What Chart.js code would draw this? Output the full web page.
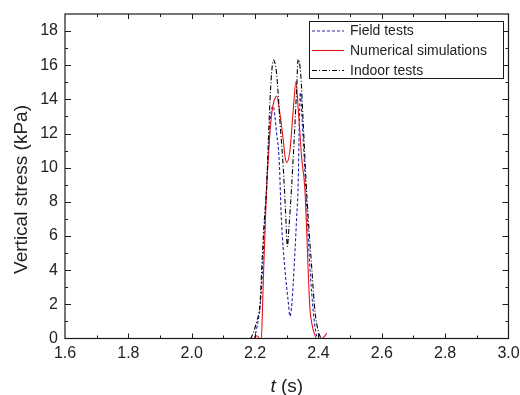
<!DOCTYPE html>
<html><head><meta charset="utf-8">
<script src="https://cdn.jsdelivr.net/npm/chart.js@4/dist/chart.umd.min.js"></script>
<style>html,body{margin:0;padding:0;background:#fff}#c{display:block}</style>
</head><body>
<canvas id="c" width="520" height="395"></canvas>
<script>
const xTicks = [1.6, 1.8, 2.0, 2.2, 2.4, 2.6, 2.8, 3.0];
const yTicks = [0, 2, 4, 6, 8, 10, 12, 14, 16, 18];
const seriesLabels = ['Field tests', 'Numerical simulations', 'Indoor tests'];

const tField = [2.198, 2.205, 2.216, 2.222, 2.231, 2.242, 2.249, 2.257, 2.268, 2.276, 2.283, 2.294, 2.305, 2.310, 2.315, 2.320, 2.326, 2.331, 2.336, 2.339, 2.343, 2.349, 2.358, 2.365, 2.372, 2.379, 2.387, 2.395, 2.399];
const vField = [0, 0.6, 1.9, 3.5, 7.0, 11.0, 13.0, 13.6, 12.0, 10.5, 7.0, 4.1, 2.1, 1.3, 1.8, 3.1, 5.1, 7.0, 9.0, 12.0, 14.4, 12.6, 9.5, 7.0, 4.5, 2.6, 1.0, 0.1, 0];

const tNum = [2.198, 2.203, 2.208, 2.213, 2.220, 2.223, 2.227, 2.231, 2.236, 2.242, 2.248, 2.256, 2.264, 2.268, 2.279, 2.289, 2.295, 2.300, 2.310, 2.321, 2.329, 2.336, 2.347, 2.357, 2.363, 2.368, 2.373, 2.380, 2.387, 2.394, 2.410, 2.418, 2.426];
const vNum = [0, 0.15, 0.15, 0, 0, 1.5, 4.0, 6.0, 8.6, 10.6, 12.3, 13.6, 14.1, 14.2, 13.1, 11.6, 10.6, 10.3, 11.0, 13.5, 15.05, 13.5, 10.6, 8.8, 6.3, 3.8, 1.8, 0.8, 0.3, 0, 0, 0.1, 0.3];

const tIndoor = [2.185, 2.189, 2.205, 2.216, 2.221, 2.228, 2.237, 2.242, 2.247, 2.252, 2.258, 2.268, 2.279, 2.289, 2.296, 2.302, 2.307, 2.316, 2.326, 2.331, 2.336, 2.344, 2.352, 2.361, 2.368, 2.379, 2.389, 2.400, 2.408];
const vIndoor = [0, 0.1, 1.0, 2.1, 4.1, 6.6, 9.0, 11.6, 13.9, 15.5, 16.3, 15.5, 12.6, 10.0, 7.5, 5.4, 6.5, 9.1, 12.6, 14.5, 16.35, 15.5, 12.6, 9.2, 7.0, 4.1, 1.6, 0.4, 0];

const FONT = '"Liberation Sans", Arial, sans-serif';
const colors = ['#2424a8', '#e8141c', '#000000'];
const dashes = [[3, 2], [], [5, 2, 1, 2]];

function pts(t, v) { return t.map((x, i) => ({ x: x, y: v[i] })); }

const framePlugin = {
  id: 'frame',
  afterDraw(chart) {
    const ctx = chart.ctx, a = chart.chartArea;
    const xs = chart.scales.x, ys = chart.scales.y;
    ctx.save();
    ctx.strokeStyle = '#1a1a1a';
    ctx.lineWidth = 1.2;
    ctx.strokeRect(a.left, a.top, a.right - a.left, a.bottom - a.top);
    ctx.lineWidth = 1;
    ctx.beginPath();
    for (let k = 0; k <= 14; k++) {
      const v = 1.6 + k * 0.1;
      const px = Math.round(xs.getPixelForValue(v)) + 0.5;
      const len = (k % 2 === 0) ? 5 : 3;
      if (k === 0 || k === 14) continue;
      ctx.moveTo(px, a.bottom); ctx.lineTo(px, a.bottom - len);
      ctx.moveTo(px, a.top); ctx.lineTo(px, a.top + len);
    }
    for (let v = 1; v < 19; v++) {
      const py = Math.round(ys.getPixelForValue(v)) + 0.5;
      const len = (v % 2 === 0) ? 6 : 3;
      ctx.moveTo(a.left, py); ctx.lineTo(a.left + len, py);
      ctx.moveTo(a.right, py); ctx.lineTo(a.right - len, py);
    }
    ctx.stroke();

    // legend
    const lx = 309.5, ly = 21.5, lw = 194, lh = 57;
    ctx.fillStyle = '#fff';
    ctx.fillRect(lx, ly, lw, lh);
    ctx.strokeStyle = '#1a1a1a';
    ctx.lineWidth = 1;
    ctx.strokeRect(lx, ly, lw, lh);
    const rows = [31, 50.5, 70.5];
    chart.data.datasets.forEach((ds, i) => {
      const y = rows[i];
      ctx.beginPath();
      ctx.setLineDash(ds.borderDash || []);
      ctx.strokeStyle = ds.borderColor;
      ctx.lineWidth = ds.borderWidth;
      ctx.moveTo(312, y); ctx.lineTo(344, y);
      ctx.stroke();
      ctx.setLineDash([]);
      ctx.fillStyle = '#222';
      ctx.font = '14px ' + FONT;
      ctx.textBaseline = 'middle';
      ctx.textAlign = 'left';
      ctx.fillText(ds.label, 350, y + 0.5);
    });

    // x axis title with italic t
    ctx.font = 'italic 19px ' + FONT;
    const w1 = ctx.measureText('t').width;
    ctx.font = '19px ' + FONT;
    const w2 = ctx.measureText(' (s)').width;
    const cx = (a.left + a.right) / 2;
    const x0 = cx - (w1 + w2) / 2;
    ctx.textBaseline = 'alphabetic';
    ctx.textAlign = 'left';
    ctx.fillStyle = '#222';
    ctx.font = 'italic 19px ' + FONT;
    ctx.fillText('t', x0, 392);
    ctx.font = '19px ' + FONT;
    ctx.fillText(' (s)', x0 + w1, 392);
    ctx.restore();
  }
};

const datasets = [
  { label: seriesLabels[0], data: pts(tField, vField), borderColor: colors[0], borderDash: dashes[0], order: 2 },
  { label: seriesLabels[1], data: pts(tNum, vNum), borderColor: colors[1], borderDash: dashes[1], order: 1 },
  { label: seriesLabels[2], data: pts(tIndoor, vIndoor), borderColor: colors[2], borderDash: dashes[2], order: 0 }
].map(d => Object.assign(d, { borderWidth: 1.1, pointRadius: 0, fill: false, cubicInterpolationMode: 'monotone' }));

new Chart(document.getElementById('c'), {
  type: 'line',
  data: { datasets: datasets },
  options: {
    responsive: false,
    animation: false,
    layout: { padding: { left: 0, right: 11.5, top: 14, bottom: 0 } },
    plugins: { legend: { display: false }, tooltip: { enabled: false } },
    scales: {
      x: {
        type: 'linear', min: 1.6, max: 3.0,
        afterBuildTicks: s => { s.ticks = xTicks.map(v => ({ value: v })); },
        afterFit: s => { s.height = 56.5; s.paddingLeft = 0; s.paddingRight = 0; },
        grid: { display: false, drawTicks: false },
        border: { display: false },
        ticks: { padding: 5, color: '#222', font: { size: 16, family: FONT }, maxRotation: 0, autoSkip: false, callback: v => Number(v).toFixed(1) }
      },
      y: {
        type: 'linear', min: 0, max: 19,
        afterBuildTicks: s => { s.ticks = yTicks.map(v => ({ value: v })); },
        afterFit: s => { s.width = 65; s.paddingTop = 0; s.paddingBottom = 0; },
        grid: { display: false, drawTicks: false },
        border: { display: false },
        ticks: { padding: 7, color: '#222', font: { size: 16, family: FONT }, autoSkip: false, callback: v => String(v) },
        title: { display: true, text: 'Vertical stress (kPa)     ', color: '#222', font: { size: 19, family: FONT }, padding: { top: 10, bottom: 0 } }
      }
    }
  },
  plugins: [framePlugin]
});
</script>
</body></html>
